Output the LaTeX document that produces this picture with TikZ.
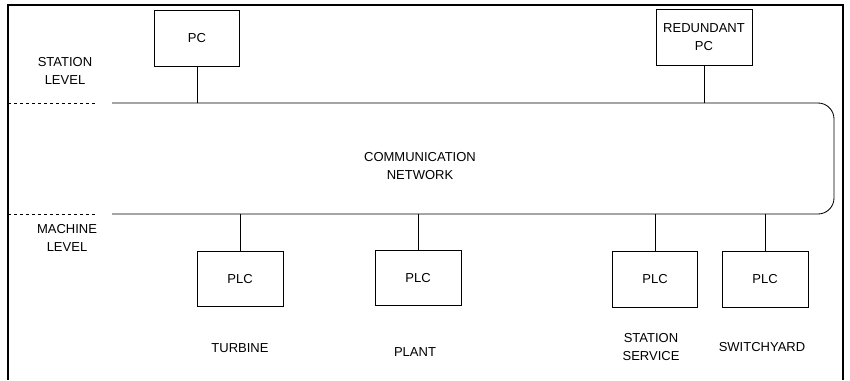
\documentclass[tikz,border=0pt]{standalone}
\usepackage{fontspec}
\setmainfont{Liberation Sans}
\begin{document}
\begin{tikzpicture}[x=1pt,y=-1pt,
  every node/.style={font=\fontsize{13}{18}\selectfont, align=center, inner sep=0pt},
  unit/.style={draw, line width=0.75pt, minimum height=56pt},
  link/.style={line width=0.7pt},
  lvl/.style={dashed, line width=0.6pt}]
\useasboundingbox (0,0) rectangle (850,380);
% frame
\draw[line width=1.4pt] (8,380) -- (8,5) -- (843,5) -- (843,380);
% network
\coordinate (nettop) at (0,103);
\coordinate (netbot) at (0,214);
\draw[line width=0.85pt, rounded corners=16pt] (112,103) -- (834,103) -- (834,214) -- (112,214);
\node (net) at (420,166) {COMMUNICATION\\NETWORK};
% level separators
\coordinate (d1a) at (8,103); \coordinate (d1b) at (97,103);
\coordinate (d2a) at (8,214); \coordinate (d2b) at (97,214);
\draw[lvl] (d1a) -- (d1b);
\draw[lvl] (d2a) -- (d2b);
\node (station) at (65,71) {STATION\\LEVEL};
\node (machine) at (67,238) {MACHINE\\LEVEL};
% PCs
\node[unit, minimum width=85pt] (pc) at (197,38) {PC};
\node[unit, minimum width=96pt] (rpc) at (704,37) {REDUNDANT\\PC};
\draw[link] (pc.south) -- (pc.south |- nettop);
\draw[link] (rpc.south) -- (rpc.south |- nettop);
% PLCs
\node[unit, minimum width=86pt, minimum height=55pt] (plc1) at (240,279) {PLC};
\node[unit, minimum width=86pt, minimum height=55pt] (plc2) at (418,278) {PLC};
\node[unit, minimum width=85pt] (plc3) at (655,279) {PLC};
\node[unit, minimum width=86pt] (plc4) at (765,279) {PLC};
\draw[link] (plc1.north) -- (plc1.north |- netbot);
\draw[link] (plc2.north) -- (plc2.north |- netbot);
\draw[link] (plc3.north) -- (plc3.north |- netbot);
\draw[link] (plc4.north) -- (plc4.north |- netbot);
% labels
\node (l1) at (240,348) {TURBINE};
\node (l2) at (415,352) {PLANT};
\node (l3) at (651,347) {STATION\\SERVICE};
\node (l4) at (762,347) {SWITCHYARD};
\end{tikzpicture}
\end{document}
